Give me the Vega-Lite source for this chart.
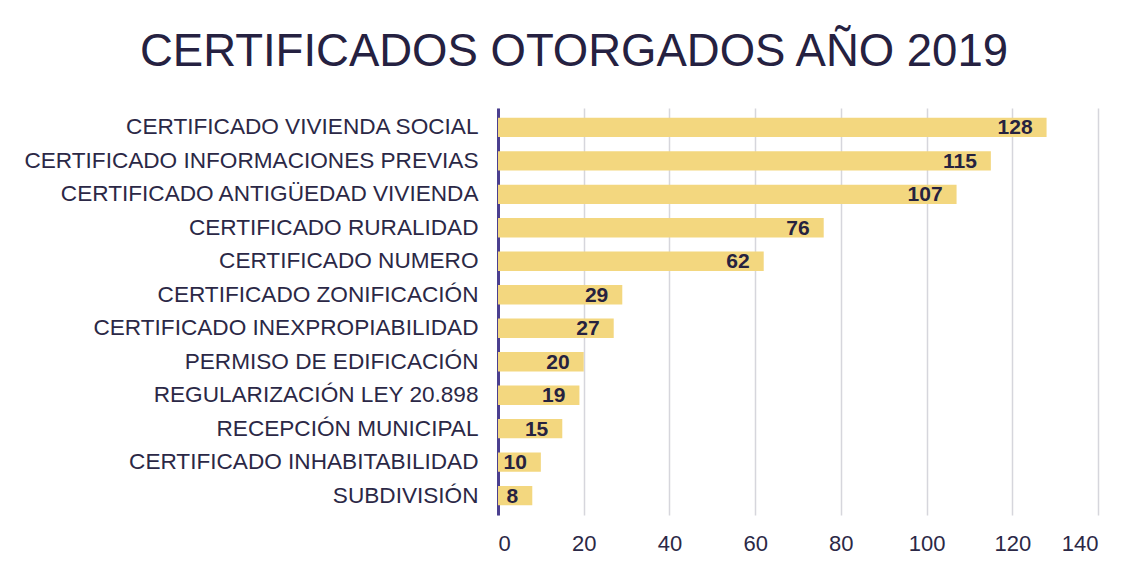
{
  "$schema": "https://vega.github.io/schema/vega-lite/v6.json",
  "autosize": "none",
  "width": 600,
  "height": 407,
  "padding": {"left": 498, "top": 108, "right": 33, "bottom": 53},
  "background": "white",
  "title": {
    "text": "CERTIFICADOS OTORGADOS AÑO 2019",
    "font": "Liberation Sans",
    "fontSize": 45.5,
    "fontWeight": "normal",
    "color": "#252141",
    "anchor": "middle",
    "frame": "bounds",
    "offset": 33,
    "dx": 13
  },
  "data": {
    "values": [
      {"categoria": "CERTIFICADO VIVIENDA SOCIAL", "cantidad": 128},
      {"categoria": "CERTIFICADO INFORMACIONES PREVIAS", "cantidad": 115},
      {"categoria": "CERTIFICADO ANTIGÜEDAD VIVIENDA", "cantidad": 107},
      {"categoria": "CERTIFICADO RURALIDAD", "cantidad": 76},
      {"categoria": "CERTIFICADO NUMERO", "cantidad": 62},
      {"categoria": "CERTIFICADO ZONIFICACIÓN", "cantidad": 29},
      {"categoria": "CERTIFICADO INEXPROPIABILIDAD", "cantidad": 27},
      {"categoria": "PERMISO DE EDIFICACIÓN", "cantidad": 20},
      {"categoria": "REGULARIZACIÓN LEY 20.898", "cantidad": 19},
      {"categoria": "RECEPCIÓN MUNICIPAL", "cantidad": 15},
      {"categoria": "CERTIFICADO INHABITABILIDAD", "cantidad": 10},
      {"categoria": "SUBDIVISIÓN", "cantidad": 8}
    ]
  },
  "encoding": {
    "y": {
      "field": "categoria",
      "type": "nominal",
      "sort": null,
      "scale": {"paddingInner": 0.42, "paddingOuter": 0.29},
      "axis": {
        "title": null,
        "ticks": false,
        "grid": false,
        "domainColor": "#4b3f8f",
        "domainWidth": 3,
        "labelFont": "Liberation Sans",
        "labelFontSize": 22.6,
        "labelColor": "#2b2846",
        "labelPadding": 20,
        "labelLimit": 600
      }
    },
    "x": {
      "field": "cantidad",
      "type": "quantitative",
      "scale": {"domain": [0, 140], "nice": false},
      "axis": {
        "title": null,
        "values": [0, 20, 40, 60, 80, 100, 120, 140],
        "domain": false,
        "ticks": false,
        "grid": true,
        "gridColor": "#d6d6dc",
        "gridWidth": 1.5,
        "labelFont": "Liberation Sans",
        "labelFontSize": 22,
        "labelColor": "#2b2846",
        "labelPadding": 18
      }
    }
  },
  "layer": [
    {"mark": {"type": "bar", "color": "#f3d77f"}},
    {
      "mark": {
        "type": "text",
        "align": "right",
        "baseline": "middle",
        "dx": -14,
        "dy": 1,
        "font": "Liberation Sans",
        "fontSize": 21,
        "fontWeight": "bold",
        "color": "#26223f"
      },
      "encoding": {"text": {"field": "cantidad", "type": "quantitative"}}
    }
  ],
  "config": {"view": {"stroke": null}}
}
